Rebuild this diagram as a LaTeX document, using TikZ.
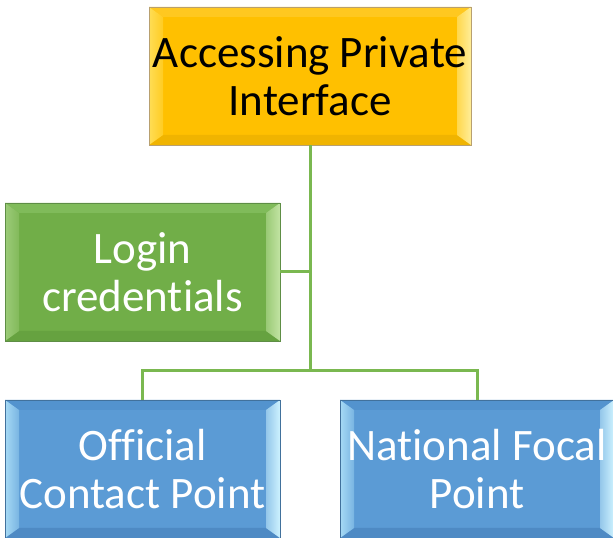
\documentclass[tikz,border=0pt]{standalone}
\usepackage{fontspec}
\setmainfont{Carlito}[Ligatures={NoCommon}]
\definecolor{goldB}{HTML}{FFC000}
\definecolor{goldL}{HTML}{FFDD55}
\definecolor{goldR}{HTML}{FFEE99}
\definecolor{goldT}{HTML}{FFC820}
\definecolor{goldD}{HTML}{F0B400}
\definecolor{goldE}{HTML}{B8A070}
\definecolor{grnB}{HTML}{71AE48}
\definecolor{grnL}{HTML}{9CCB78}
\definecolor{grnR}{HTML}{C2E4A3}
\definecolor{grnT}{HTML}{80BB5A}
\definecolor{grnD}{HTML}{66A240}
\definecolor{grnE}{HTML}{5E8E45}
\definecolor{bluB}{HTML}{5B9BD5}
\definecolor{bluL}{HTML}{A6DAF5}
\definecolor{bluR}{HTML}{CDF2FF}
\definecolor{bluT}{HTML}{5393CE}
\definecolor{bluD}{HTML}{4E8AC4}
\definecolor{bluE}{HTML}{41719C}
\definecolor{connC}{HTML}{7AB850}
\tikzset{
  bevel/.style={
    rectangle, inner sep=0pt, minimum height=138pt, align=center,
    font=\fontsize{45}{48.5}\selectfont,
    fill=#1B, draw=#1E, line width=0.8pt,
    path picture={
      \path (path picture bounding box.south west) coordinate (bsw)
            (path picture bounding box.north east) coordinate (bne);
      \coordinate (bnw) at (bsw|-bne);
      \coordinate (bse) at (bne|-bsw);
      \coordinate (isw) at ([shift={(14pt,10pt)}]bsw);
      \coordinate (ine) at ([shift={(-14pt,-10pt)}]bne);
      \coordinate (inw) at ([shift={(14pt,-10pt)}]bnw);
      \coordinate (ise) at ([shift={(-14pt,10pt)}]bse);
      \fill[#1T] (bnw) -- (bne) -- (ine) -- (inw) -- cycle;
      \fill[#1D] (bsw) -- (bse) -- (ise) -- (isw) -- cycle;
      \shade[left color=#1L, right color=#1B!60!#1L] (bsw) -- (bnw) -- (inw) -- (isw) -- cycle;
      \shade[left color=#1B!50!#1R, right color=#1R] (bse) -- (bne) -- (ine) -- (ise) -- cycle;
    }
  },
  conn/.style={draw=connC, line width=3pt}
}
\begin{document}
\begin{tikzpicture}[x=1pt,y=1pt]
\useasboundingbox (0,0) rectangle (613,538);
\fill[white] (0,0) rectangle (613,538);
\node[bevel=gold, minimum width=322pt, text=black] (top) at (310,462) {Accessing Private\\Interface};
\node[bevel=grn, minimum width=275pt, text=white] (login) at (142.5,266) {Login\\credentials};
\node[bevel=blu, minimum width=275pt, text=white] (ocp) at (142.5,69) {Official\\Contact Point};
\node[bevel=blu, minimum width=274pt, text=white] (nfp) at (477,69) {National Focal\\Point};
\coordinate (bus) at (310,167);
\draw[conn] (top.south) -- (bus);
\draw[conn] (login.east) -- (login.east -| bus);
\draw[conn] (ocp.north) |- (bus) -| (nfp.north);
\end{tikzpicture}
\end{document}
